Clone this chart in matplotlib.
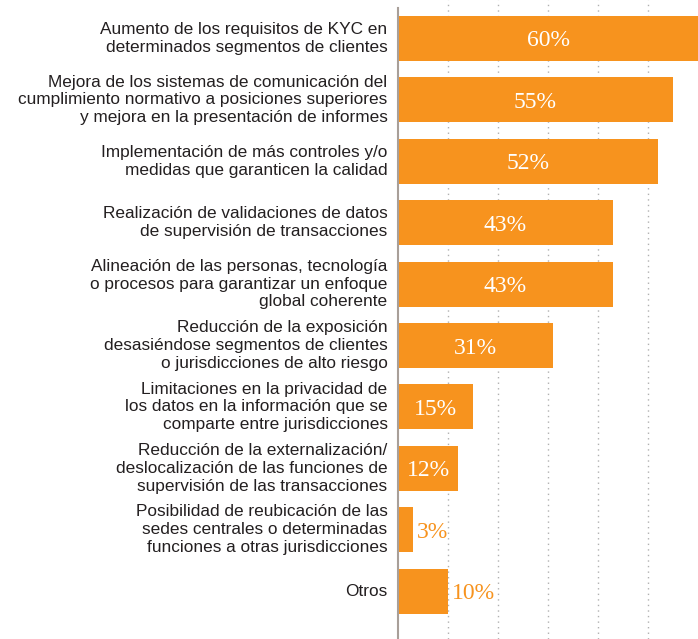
import matplotlib.pyplot as plt
import numpy as np

categories = [
    "Aumento de los requisitos de KYC en\ndeterminados segmentos de clientes",
    "Mejora de los sistemas de comunicación del\ncumplimiento normativo a posiciones superiores\ny mejora en la presentación de informes",
    "Implementación de más controles y/o\nmedidas que garanticen la calidad",
    "Realización de validaciones de datos\nde supervisión de transacciones",
    "Alineación de las personas, tecnología\no procesos para garantizar un enfoque\nglobal coherente",
    "Reducción de la exposición\ndesasiéndose segmentos de clientes\no jurisdicciones de alto riesgo",
    "Limitaciones en la privacidad de\nlos datos en la información que se\ncomparte entre jurisdicciones",
    "Reducción de la externalización/\ndeslocalización de las funciones de\nsupervisión de las transacciones",
    "Posibilidad de reubicación de las\nsedes centrales o determinadas\nfunciones a otras jurisdicciones",
    "Otros",
]
values = [60, 55, 52, 43, 43, 31, 15, 12, 3, 10]

orange = "#F7931E"
text_color = "#231F20"

fig = plt.figure(figsize=(6.98, 6.39), dpi=100)
ax = fig.add_axes([398 / 698, 0, 300 / 698, 1])

y = np.arange(len(values))
ax.barh(y, values, height=0.73, color=orange, zorder=2)

ax.set_xlim(0, 60)
ax.set_ylim(9.78, -0.627)

# dotted vertical guides every 10%
for gx in range(10, 60, 10):
    ax.axvline(gx, color="#b0b0b0", linestyle=(0, (1, 3)), linewidth=1, zorder=1)

for s in ["top", "right", "bottom"]:
    ax.spines[s].set_visible(False)
ax.spines["left"].set_color("#a89f99")
ax.spines["left"].set_linewidth(1.5)
ax.spines["left"].set_bounds(-0.5, 9.78)
ax.set_xticks([])
ax.set_yticks([])

# value labels: inside in white, outside in orange for short bars
for yi, v in zip(y, values):
    if v >= 12:
        ax.text(v / 2, yi, f"{v}%", color="white", ha="center", va="center_baseline",
                fontsize=17, family="Liberation Serif", zorder=3)
    else:
        ax.annotate(f"{v}%", (v, yi), xytext=(2.5, 0), textcoords="offset points",
                    color=orange, ha="left", va="center_baseline",
                    fontsize=17, family="Liberation Serif", zorder=3)

# category labels to the left of the axis
for yi, label in zip(y, categories):
    ax.annotate(label, (0, yi), xytext=(-7.5, 0), textcoords="offset points",
                ha="right", va="center", multialignment="right",
                fontsize=12.4, family="Liberation Sans", color=text_color,
                linespacing=1.24, annotation_clip=False)

plt.savefig("out.png", dpi=100)
